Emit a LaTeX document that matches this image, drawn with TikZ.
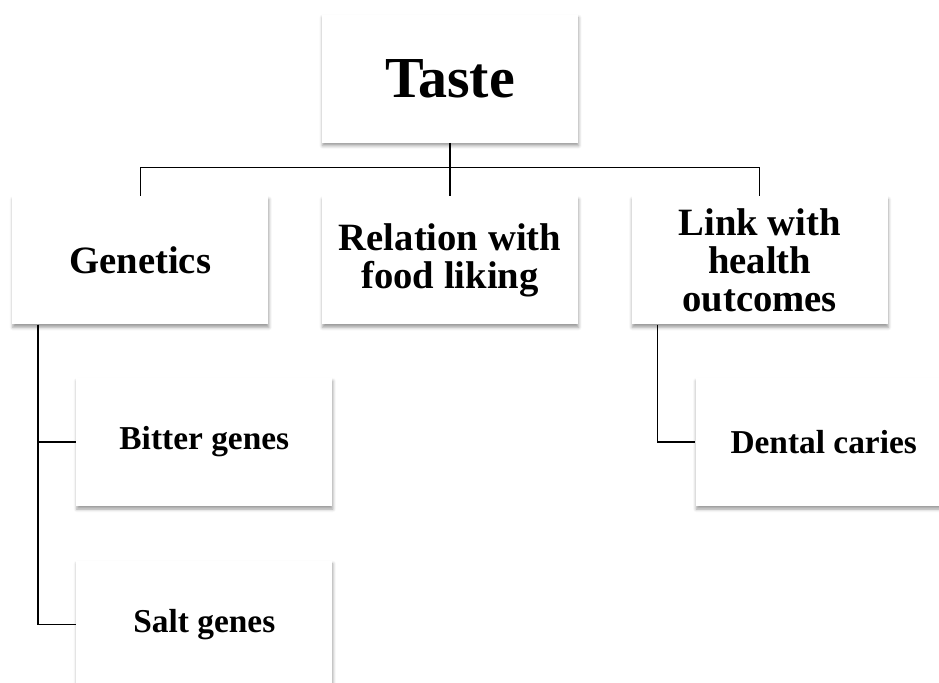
\documentclass[tikz,border=0pt]{standalone}
\usepackage{fontspec}
\setmainfont{Liberation Serif}
\usetikzlibrary{calc, positioning, shadows.blur}

\begin{document}
\begin{tikzpicture}[
        node distance=1.06cm, auto,
        box/.style={rectangle, fill=white, align=center,
            minimum width=5.12cm, minimum height=2.56cm, inner sep=2pt,
            blur shadow={shadow xshift=0.3pt, shadow yshift=-1.8pt,
                shadow blur radius=1.8pt, shadow opacity=40}},
        topbox/.style={box, font=\bfseries\fontsize{33}{36}\selectfont},
        midbox/.style={box, font=\bfseries\fontsize{22}{21.5}\selectfont},
        subbox/.style={box, font=\bfseries\fontsize{19}{22}\selectfont},
        branch/.style={draw, line width=0.8pt}
    ]
    \clip (0,0) rectangle (18.78,-13.64);
    \node [topbox] (taste) at (9.0,-1.57) {Taste};
    \node [midbox, below=of taste] (relation) {Relation with\\ food liking};
    \node [midbox, left=of relation] (genetics) {Genetics};
    \node [midbox, right=of relation] (health) {Link with\\ health\\ outcomes};
    \node [subbox, below right=1.06cm and 1.28cm of genetics.south west, anchor=north west] (bitter) {Bitter genes};
    \node [subbox, below=1.08cm of bitter] (salt) {Salt genes};
    \node [subbox, below right=1.06cm and 1.28cm of health.south west, anchor=north west] (caries) {Dental caries};

    \coordinate (bus) at ($(taste.south)!0.47!(relation.north)$);
    \coordinate (gspine) at ([xshift=0.52cm]genetics.south west);
    \coordinate (hspine) at ([xshift=0.52cm]health.south west);

    \draw [branch] (taste.south) -- (relation.north);
    \draw [branch] (genetics.north) |- (bus) -| (health.north);
    \draw [branch] (gspine) |- (bitter.west);
    \draw [branch] (gspine) |- (salt.west);
    \draw [branch] (hspine) |- (caries.west);
\end{tikzpicture}
\end{document}
